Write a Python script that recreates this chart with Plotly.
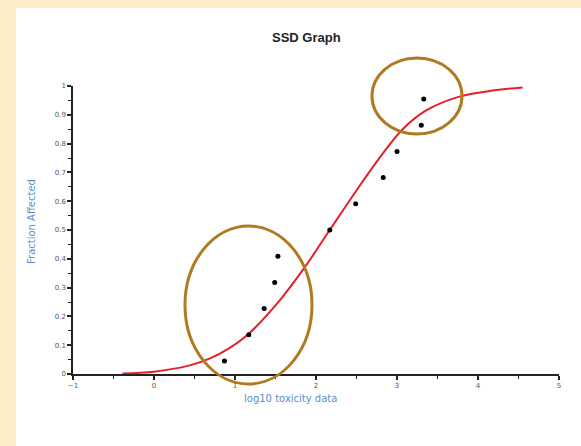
import plotly.graph_objects as go

# Observed data points (log10 toxicity, fraction affected)
point_x = [0.87, 1.17, 1.36, 1.49, 1.53, 2.17, 2.49, 2.83, 3.00, 3.30, 3.33]
point_y = [0.045, 0.136, 0.227, 0.318, 0.409, 0.500, 0.591, 0.682, 0.773, 0.864, 0.955]

# Fitted SSD curve
curve_x = [-0.39, 0.0, 0.44, 0.7, 0.93, 1.17, 1.55, 1.86, 2.17, 2.58, 2.81, 3.07, 3.36, 3.77, 4.2, 4.55]
curve_y = [0.002, 0.008, 0.03, 0.055, 0.09, 0.14, 0.255, 0.37, 0.50, 0.67, 0.76, 0.85, 0.915, 0.963, 0.985, 0.995]

x_ticks = [-1, 0, 1, 2, 3, 4, 5]
y_ticks = [0, 0.1, 0.2, 0.3, 0.4, 0.5, 0.6, 0.7, 0.8, 0.9, 1]
y_tick_labels = ["0", "0.1", "0.2", "0.3", "0.4", "0.5", "0.6", "0.7", "0.8", "0.9", "1"]

W, H = 581, 446
L, R, T, B = 73, 22, 86, 72
PW, PH = W - L - R, H - T - B

def px(xp):
    return (xp - L) / PW

def py(yp):
    return (H - B - yp) / PH

fig = go.Figure()
fig.add_trace(go.Scatter(x=curve_x, y=curve_y, mode="lines",
                         line=dict(color="#E3202B", width=2, shape="spline", smoothing=1.0),
                         hoverinfo="skip"))
fig.add_trace(go.Scatter(x=point_x, y=point_y, mode="markers",
                         marker=dict(color="black", size=5)))

shapes = [
    # white panel
    dict(type="rect", xref="paper", yref="paper", x0=px(16), x1=px(W + 5),
         y0=py(H + 5), y1=py(8), fillcolor="white", line=dict(width=0), layer="below"),
    # ellipses
    dict(type="circle", xref="paper", yref="paper", x0=px(185), x1=px(312),
         y0=py(384), y1=py(226), line=dict(color="#B07A22", width=3)),
    dict(type="circle", xref="paper", yref="paper", x0=px(372), x1=px(462),
         y0=py(134), y1=py(58), line=dict(color="#B07A22", width=3)),
]

annotations = [
    dict(text="<b>SSD Graph</b>", xref="paper", yref="paper", x=px(306), y=py(37),
         xanchor="center", yanchor="middle",
         showarrow=False, font=dict(family="Liberation Sans, Arial", size=13, color="#222")),
    dict(text="log10 toxicity data", xref="paper", yref="paper", x=px(290), y=py(398),
         xanchor="center", yanchor="middle",
         showarrow=False, font=dict(family="DejaVu Sans", size=10, color="#5B8FC8")),
    dict(text="Fraction Affected", xref="paper", yref="paper", x=px(31), y=py(222),
         xanchor="center", yanchor="middle",
         textangle=-90, showarrow=False,
         font=dict(family="DejaVu Sans", size=10, color="#5B8FC8")),
]

fig.update_layout(
    width=W, height=H,
    margin=dict(l=L, r=R, t=T, b=B),
    paper_bgcolor="#FCEDC6",
    plot_bgcolor="white",
    showlegend=False,
    shapes=shapes,
    annotations=annotations,
    xaxis=dict(range=[-1, 5], tickvals=x_ticks, showgrid=False, zeroline=False,
               showline=True, linecolor="#222", linewidth=1.5,
               ticks="outside", ticklen=4, tickwidth=1.5, tickcolor="#222",
               minor=dict(dtick=0.5, ticks="outside", ticklen=3, tickcolor="#222", tickwidth=1),
               tickfont=dict(family="DejaVu Sans", size=7, color="#555")),
    yaxis=dict(range=[0, 1], tickvals=y_ticks, ticktext=y_tick_labels, showgrid=False,
               zeroline=False, showline=True, linecolor="#222", linewidth=1.5,
               ticks="outside", ticklen=4, tickwidth=1.5, tickcolor="#222",
               minor=dict(dtick=0.05, ticks="outside", ticklen=3, tickcolor="#222", tickwidth=1),
               tickfont=dict(family="DejaVu Sans", size=7, color="#555")),
)

fig.write_html("out.html", config={"displayModeBar": False},
               post_script="document.body.style.margin='0';")
